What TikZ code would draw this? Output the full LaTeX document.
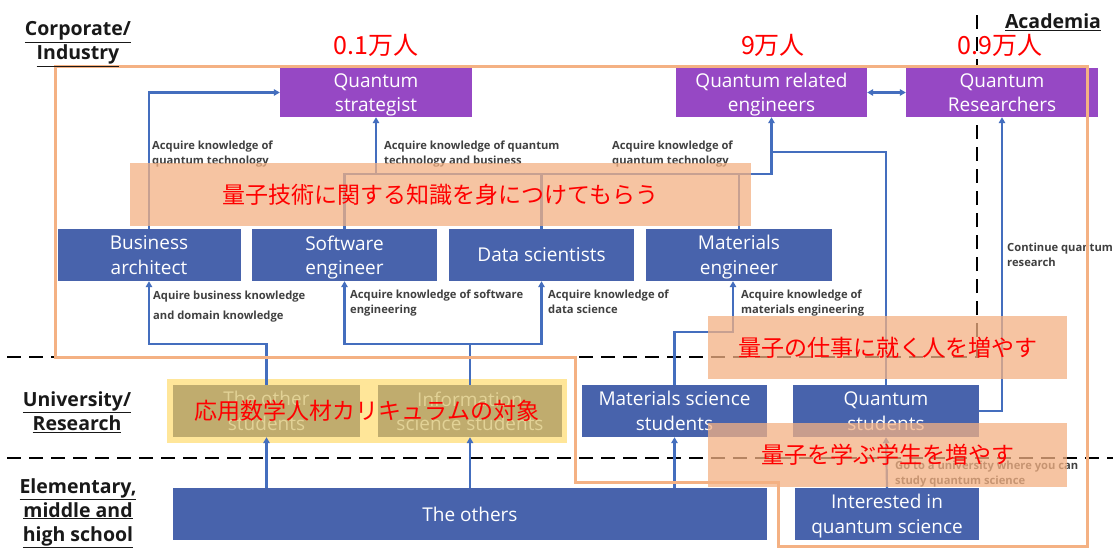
\documentclass[tikz,border=0pt]{standalone}
\usepackage{fontspec}
\setmainfont{Open Sans}
\newfontfamily\jp{Noto Sans CJK JP}
\usetikzlibrary{arrows.meta}
\definecolor{qpurple}{RGB}{150,72,196}
\definecolor{qblue}{RGB}{72,99,172}
\definecolor{lineblue}{RGB}{68,110,190}
\definecolor{salmonc}{RGB}{244,177,131}
\definecolor{orangec}{RGB}{244,177,131}
\definecolor{lblgray}{RGB}{64,64,64}
\definecolor{yellowc}{RGB}{255,230,153}
\definecolor{khaki}{RGB}{192,172,110}
\definecolor{khakitxt}{RGB}{226,210,150}
\tikzset{
  box/.style={draw=none, inner sep=0pt, align=center, text=white, text depth=0pt, font=\fontsize{19}{24.5}\selectfont},
  pbox/.style={box, fill=qpurple},
  bbox/.style={box, fill=qblue},
  kbox/.style={box, fill=khaki, text=khakitxt},
  conn/.style={draw=lineblue, line width=2.2pt},
  arr/.style={conn, -{Triangle[length=6pt,width=6.5pt]}},
  darr/.style={conn, {Triangle[length=6pt,width=6.5pt]}-{Triangle[length=6pt,width=6.5pt]}},
  lbl/.style={anchor=north west, align=left, inner sep=0pt, text=lblgray, font=\fontsize{11.2}{14.5}\selectfont\bfseries},
  salmonbox/.style={fill=salmonc, fill opacity=0.75, text opacity=1, draw=none, inner sep=0pt, text=red, font=\jp\fontsize{23}{28}\selectfont},
  jptxt/.style={text=red, inner sep=0pt, font=\jp\fontsize{23}{28}\selectfont},
  numtxt/.style={text=red, inner sep=0pt, font=\jp\fontsize{25}{30}\selectfont},
  dline/.style={draw=black, line width=1.5pt, dash pattern=on 14pt off 8pt},
  side/.style={align=center, inner sep=0pt, font=\fontsize{19.5}{24}\selectfont\bfseries, text=black!90},
}
\begin{document}
\begin{tikzpicture}[x=1pt,y=-1pt]
\useasboundingbox[fill=white] (0,0) rectangle (1113,548);
% dashed separators
\draw[dline] (7,357) -- (977,357) -- (977,8);
\draw[dline] (7,458) -- (1113,458);
% boxes
\node[pbox, minimum width=192pt, minimum height=49pt] (strat) at (376,92.5) {Quantum\\strategist};
\node[pbox, minimum width=191pt, minimum height=49pt] (qeng) at (771.5,92.5) {Quantum related\\engineers};
\node[pbox, minimum width=192pt, minimum height=49pt] (qres) at (1002,92.5) {Quantum\\Researchers};
\node[bbox, minimum width=183pt, minimum height=52pt] (busi) at (149,255) {Business\\architect};
\node[bbox, minimum width=185pt, minimum height=52pt] (soft) at (344.5,255) {Software\\engineer};
\node[bbox, minimum width=185pt, minimum height=52pt] (data) at (541.5,255) {Data scientists};
\node[bbox, minimum width=186pt, minimum height=52pt] (mate) at (739,255) {Materials\\engineer};
\node[fill=yellowc, minimum width=400pt, minimum height=64pt, inner sep=0pt] (yb) at (367,411) {};
\node[kbox, minimum width=187pt, minimum height=52pt] (oth) at (266.5,411) {The other\\students};
\node[kbox, minimum width=184pt, minimum height=52pt] (info) at (470,411) {Information\\science students};
\node[bbox, minimum width=185pt, minimum height=52pt] (mss) at (674.5,411) {Materials science\\students};
\node[bbox, minimum width=186pt, minimum height=52pt] (qstu) at (886,411) {Quantum\\students};
\node[bbox, minimum width=594pt, minimum height=52pt] (others) at (470,514) {The others};
\node[bbox, minimum width=184pt, minimum height=52pt] (intq) at (887,514) {Interested in\\quantum science};
% helper coordinates
\coordinate (h1) at (0,344);
\coordinate (h2) at (0,332);
\coordinate (h3) at (0,152);
\coordinate (h4) at (0,174);
\coordinate (mx) at (733,0);
% connectors
\draw[arr] (oth |- others.north) -- (oth.south);
\draw[arr] (info |- others.north) -- (info.south);
\draw[arr] (mss |- others.north) -- (mss.south);
\draw[arr] (intq.north) -- (qstu.south);
\draw[arr] (oth.north) -- (oth |- h1) -- (busi |- h1) -- (busi.south);
\draw[arr] (info.north) -- (info |- h1) -- (soft |- h1) -- (soft.south);
\draw[arr] (info |- h1) -- (data |- h1) -- (data.south);
\draw[arr] (mss.north) -- (mss |- h2) -- (mx |- h2) -- (mx |- mate.south);
\draw[arr] (qstu.east) -- (qres |- qstu.east) -- (qres.south);
\draw[arr] (qstu.north) -- (qstu |- h3) -- (qeng |- h3) -- (qeng.south);
\draw[conn] (soft.north) -- (soft |- h4) -- (qeng |- h4) -- (qeng |- h3);
\draw[conn] (data.north) -- (data |- h4);
\draw[conn] (mate.north) -- (mate |- h4);
\draw[arr] (strat |- h4) -- (strat.south);
\draw[arr] (busi.north) |- (strat.west);
\draw[darr] (qeng.east) -- (qres.west);
% connector labels
\node[lbl] (l1) at (152,141) {Acquire knowledge of\\quantum technology};
\node[lbl] (l2) at (384,141) {Acquire knowledge of quantum\\technology and business};
\node[lbl] (l3) at (612,141) {Acquire knowledge of\\quantum technology};
\node[lbl, font=\fontsize{11.2}{20}\selectfont\bfseries] (l4) at (153,291) {Aquire business knowledge\\and domain knowledge};
\node[lbl] (l5) at (350,290) {Acquire knowledge of software\\engineering};
\node[lbl] (l6) at (548,290) {Acquire knowledge of\\data science};
\node[lbl] (l7) at (741,290) {Acquire knowledge of\\materials engineering};
\node[lbl] (l8) at (1007,243) {Continue quantum\\research};
\node[lbl] (l9) at (895,461) {Go to a university where you can\\study quantum science};
% salmon highlight boxes
\node[salmonbox, minimum width=621pt, minimum height=63pt] (s1) at (440.5,194.5) {量子技術に関する知識を身につけてもらう};
\node[salmonbox, minimum width=359pt, minimum height=63pt] (s2) at (887.5,347.5) {量子の仕事に就く人を増やす};
\node[salmonbox, minimum width=359pt, minimum height=64pt] (s3) at (887.5,455) {量子を学ぶ学生を増やす};
% orange outline
\draw[draw=orangec, line width=3pt, line join=miter] (55,67) -- (1087,67) -- (1087,546) -- (778,546) -- (778,482) -- (575,482) -- (575,357) -- (55,357) -- cycle;
% red texts
\node[jptxt] (yt) at (yb.center) {応用数学人材カリキュラムの対象};
\node[numtxt] (n1) at (376,45) {0.1万人};
\node[numtxt] (n2) at (773,45) {9万人};
\node[numtxt] (n3) at (1000,45) {0.9万人};
% side labels
\node[side] (corp) at (78,44) {\underline{Corporate/}\\\underline{Industry}};
\node[side] (acad) at (1053,22) {\underline{Academia}};
\node[side] (univ) at (77,412) {\underline{University/}\\\underline{Research}};
\node[side] (elem) at (78,513) {\underline{Elementary,}\\\underline{middle and}\\\underline{high school}};
\end{tikzpicture}
\end{document}
